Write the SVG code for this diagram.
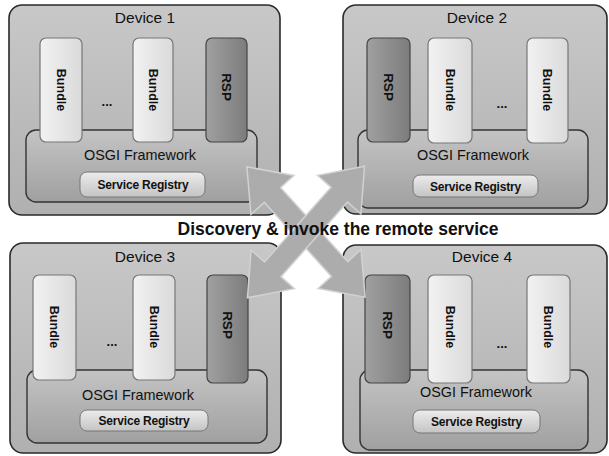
<svg xmlns="http://www.w3.org/2000/svg" width="609" height="456" viewBox="0 0 609 456">
<defs>
<linearGradient id="gDev" x1="0" y1="0" x2="0" y2="1"><stop offset="0" stop-color="#c8c8c8"/><stop offset="1" stop-color="#b0b0b0"/></linearGradient>
<linearGradient id="gBun" x1="0" y1="0" x2="1" y2="0"><stop offset="0" stop-color="#f2f2f2"/><stop offset="1" stop-color="#dadada"/></linearGradient>
<linearGradient id="gRsp" x1="0" y1="0" x2="1" y2="0"><stop offset="0" stop-color="#a0a0a0"/><stop offset="1" stop-color="#7c7c7c"/></linearGradient>
<linearGradient id="gOsgi" x1="0" y1="0" x2="0" y2="1"><stop offset="0" stop-color="#c4c4c4"/><stop offset="1" stop-color="#a0a0a0"/></linearGradient>
<linearGradient id="gSr" x1="0" y1="0" x2="0" y2="1"><stop offset="0" stop-color="#ececec"/><stop offset="1" stop-color="#c4c4c4"/></linearGradient>
</defs>
<style>
.dev{fill:url(#gDev);stroke:#2a2a2a;stroke-width:1.6}
.osgi{fill:url(#gOsgi);stroke:#333;stroke-width:1.4}
.bun{fill:url(#gBun);stroke:#777;stroke-width:1.2}
.rsp{fill:url(#gRsp);stroke:#444;stroke-width:1.2}
.sr{fill:url(#gSr);stroke:#777;stroke-width:1}
.t{font-family:"Liberation Sans",Arial,sans-serif;fill:#111;text-anchor:middle}
.title{font-size:15.5px}
.fw{font-size:14.4px}
.srt{font-size:12px;font-weight:bold;letter-spacing:-0.2px}
.vt{font-size:12.5px;font-weight:bold}
.rt{font-size:13.5px;font-weight:bold}
.dots{font-size:13px;font-weight:bold}
.cap{font-size:17.5px;font-weight:bold}
.arr{fill:#acacac;stroke:#d2d2d2;stroke-width:1.5}
</style>

<g id="device1">
<rect class="dev" x="9" y="5" width="271" height="210" rx="13"/>
<text class="t title" x="145" y="23">Device 1</text>
<rect class="osgi" x="26" y="130" width="231" height="72" rx="10"/>
<rect class="bun" x="40" y="38" width="42" height="104" rx="6"/>
<text class="t vt" transform="translate(61,90) rotate(90)" y="4.5">Bundle</text>
<text class="t dots" x="107" y="106">...</text>
<rect class="bun" x="133" y="38" width="40" height="104" rx="6"/>
<text class="t vt" transform="translate(153,90) rotate(90)" y="4.5">Bundle</text>
<rect class="rsp" x="206" y="38" width="41" height="104" rx="6"/>
<text class="t rt" transform="translate(226.5,87) rotate(90)" y="5">RSP</text>
<text class="t fw" x="140" y="160">OSGI Framework</text>
<rect class="sr" x="80" y="172" width="125" height="25" rx="7"/>
<text class="t srt" x="143" y="189">Service Registry</text>
</g>

<g id="device2">
<rect class="dev" x="343" y="5" width="264" height="209" rx="13"/>
<text class="t title" x="477" y="23">Device 2</text>
<rect class="osgi" x="358" y="130" width="230" height="78" rx="10"/>
<rect class="rsp" x="367" y="38" width="43" height="104" rx="6"/>
<text class="t rt" transform="translate(388.5,87) rotate(90)" y="5">RSP</text>
<rect class="bun" x="428" y="38" width="44" height="105" rx="6"/>
<text class="t vt" transform="translate(450,90) rotate(90)" y="4.5">Bundle</text>
<text class="t dots" x="502" y="108">...</text>
<rect class="bun" x="527" y="38" width="41" height="105" rx="6"/>
<text class="t vt" transform="translate(547.5,90) rotate(90)" y="4.5">Bundle</text>
<text class="t fw" x="473" y="160">OSGI Framework</text>
<rect class="sr" x="413" y="175" width="125" height="22" rx="7"/>
<text class="t srt" x="475.5" y="190.5">Service Registry</text>
</g>

<g id="device3">
<rect class="dev" x="10" y="243" width="271" height="210" rx="13"/>
<text class="t title" x="145" y="262">Device 3</text>
<rect class="osgi" x="27" y="370" width="240" height="73" rx="10"/>
<rect class="bun" x="33" y="275" width="43" height="105" rx="6"/>
<text class="t vt" transform="translate(54.5,327) rotate(90)" y="4.5">Bundle</text>
<text class="t dots" x="112" y="346">...</text>
<rect class="bun" x="133" y="275" width="42" height="105" rx="6"/>
<text class="t vt" transform="translate(154,327) rotate(90)" y="4.5">Bundle</text>
<rect class="rsp" x="207" y="275" width="41" height="108" rx="6"/>
<text class="t rt" transform="translate(227.5,325) rotate(90)" y="5">RSP</text>
<text class="t fw" x="138" y="400">OSGI Framework</text>
<rect class="sr" x="80" y="410" width="128" height="21" rx="7"/>
<text class="t srt" x="144" y="425">Service Registry</text>
</g>

<g id="device4">
<rect class="dev" x="343" y="245" width="264" height="208" rx="13"/>
<text class="t title" x="482" y="262">Device 4</text>
<rect class="osgi" x="360" y="370" width="228" height="80" rx="10"/>
<rect class="rsp" x="365" y="275" width="45" height="108" rx="6"/>
<text class="t rt" transform="translate(387.5,325) rotate(90)" y="5">RSP</text>
<rect class="bun" x="428" y="275" width="44" height="108" rx="6"/>
<text class="t vt" transform="translate(450,327) rotate(90)" y="4.5">Bundle</text>
<text class="t dots" x="502" y="348">...</text>
<rect class="bun" x="527" y="275" width="43" height="108" rx="6"/>
<text class="t vt" transform="translate(548.5,327) rotate(90)" y="4.5">Bundle</text>
<text class="t fw" x="476" y="397">OSGI Framework</text>
<rect class="sr" x="413" y="410" width="127" height="23" rx="7"/>
<text class="t srt" x="476.5" y="426">Service Registry</text>
</g>

<g id="connectors">
<polygon class="arr" transform="translate(306,232) rotate(47.8)" points="-88,0 -50,-29 -50,-11 50,-11 50,-29 88,0 50,29 50,11 -50,11 -50,29"/>
<polygon class="arr" transform="translate(306,232) rotate(131.7)" points="-88,0 -50,-29 -50,-11 50,-11 50,-29 88,0 50,29 50,11 -50,11 -50,29"/>
<text class="t cap" x="338" y="235">Discovery &amp; invoke the remote service</text>
</g>
</svg>
